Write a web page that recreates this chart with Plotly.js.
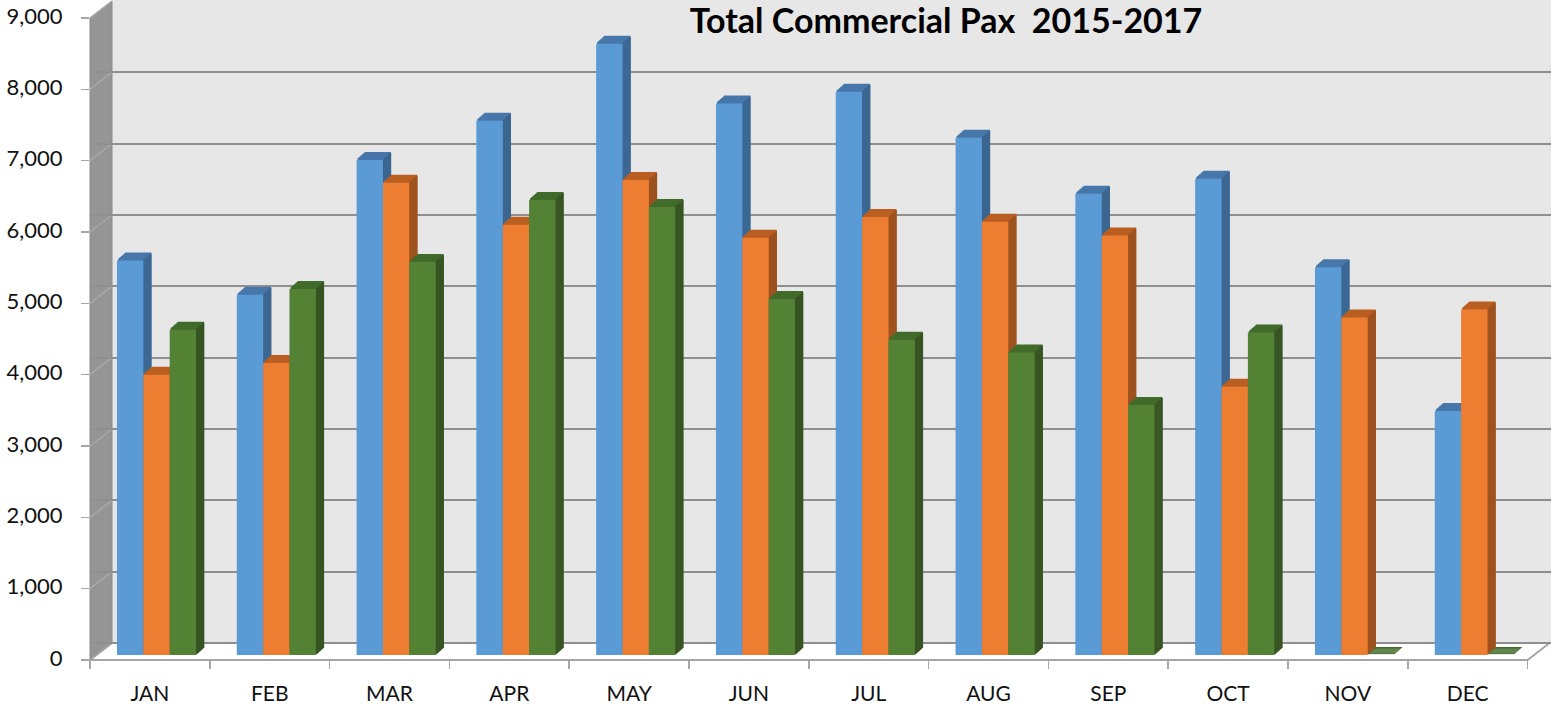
<!DOCTYPE html>
<html>
<head>
<meta charset="utf-8">
<script src="https://cdn.plot.ly/plotly-3.0.1.min.js"></script>
<style>
  html, body { margin: 0; padding: 0; background: #ffffff; }
  #chart { width: 1551px; height: 709px; }
</style>
</head>
<body>
<div id="chart"></div>
<script>
// ---------------- data ----------------
const months   = ['JAN','FEB','MAR','APR','MAY','JUN','JUL','AUG','SEP','OCT','NOV','DEC'];
const pax2015  = [5530, 5050, 6940, 7490, 8570, 7730, 7895, 7250, 6465, 6675, 5435, 3420];
const pax2016  = [3930, 4095, 6620, 6030, 6660, 5850, 6140, 6075, 5880, 3760, 4730, 4845];
const pax2017  = [4560, 5130, 5510, 6380, 6280, 4990, 4420, 4240, 3505, 4520, 0, 0];
const yTicks   = [0, 1000, 2000, 3000, 4000, 5000, 6000, 7000, 8000, 9000];
const titleText = 'Total Commercial Pax\u00a0 2015-2017';

// ---------------- geometry / style ----------------
const W_PX = 1551, H_PX = 709;
const px = x => x / W_PX;            // pixel -> paper x
const py = y => 1 - y / H_PX;        // pixel -> paper y
const AX_L = 90, AX_B = 660, AX_T = 18;      // front axis
const WALL_DX = 22, WALL_DY = 17;            // back-wall depth
const U_PER_PX = 9000 / (AX_B - AX_T);       // value units per pixel
const CAT_PX = 119.8;                        // pixels per category
const xRangeMax = -0.5 + (W_PX - AX_L) / CAT_PX;

const BAR_W = 0.22;
const DEPTH = 8;                 // extrusion layers (px)
const DX = 1 / CAT_PX;           // 1 px in category units
const DY = 0.875 * U_PER_PX;     // vertical rise per layer
const BASE0 = 5 * U_PER_PX;      // front face sits 5px behind front edge

const series = [
  {name: '2015', vals: pax2015, off: -0.275, front: '#5B9BD5', top: '#4777AA', side: '#3B6690'},
  {name: '2016', vals: pax2016, off: -0.055, front: '#ED7D31', top: '#BA5E22', side: '#9C521F'},
  {name: '2017', vals: pax2017, off:  0.165, front: '#548235', top: '#416B2A', side: '#375423'}
];

const traces = [];
series.forEach(s => {
  for (let k = DEPTH; k >= 1; k--) {
    traces.push({
      type: 'bar', x: months, y: s.vals.map(v => v + U_PER_PX),
      base: BASE0 + k * DY, offset: s.off + k * DX, width: BAR_W,
      marker: {color: s.top, line: {width: 0}},
      hoverinfo: 'skip', showlegend: false
    });
  }
  for (let k = 1; k <= DEPTH; k++) {
    traces.push({
      type: 'bar', x: months, y: s.vals,
      base: BASE0 + k * DY, offset: s.off + BAR_W + (k - 1) * DX, width: DX * 1.3,
      marker: {color: s.side, line: {width: 0}},
      hoverinfo: 'skip', showlegend: false
    });
  }
  traces.push({
    type: 'bar', name: s.name, x: months, y: s.vals,
    base: BASE0, offset: s.off, width: BAR_W,
    marker: {color: s.front, line: {width: 0}},
    showlegend: false
  });
});
// anchor trace for back-wall grid axis
traces.push({type: 'scatter', x: [], y: [], yaxis: 'y2', showlegend: false, hoverinfo: 'skip'});

// ---------------- decoration shapes ----------------
const shapes = [];
// back wall
shapes.push({type: 'rect', xref: 'paper', yref: 'paper', layer: 'below',
  x0: px(AX_L + WALL_DX), x1: px(W_PX), y0: py(AX_B - WALL_DY), y1: py(0),
  fillcolor: '#E7E7E7', line: {width: 0}});
// floor
shapes.push({type: 'path', xref: 'paper', yref: 'paper', layer: 'below',
  path: `M ${px(AX_L)} ${py(AX_B)} L ${px(AX_L + WALL_DX)} ${py(AX_B - WALL_DY)} L ${px(W_PX)} ${py(AX_B - WALL_DY)} L ${px(AX_L + 12 * CAT_PX + WALL_DX)} ${py(AX_B - WALL_DY)} L ${px(AX_L + 12 * CAT_PX)} ${py(AX_B)} Z`,
  fillcolor: '#FFFFFF', line: {color: '#A6A6A6', width: 2}});
// side wall
shapes.push({type: 'path', xref: 'paper', yref: 'paper', layer: 'between',
  path: `M ${px(AX_L)} ${py(AX_T)} L ${px(AX_L + WALL_DX)} ${py(AX_T - WALL_DY)} L ${px(AX_L + WALL_DX)} ${py(AX_B - WALL_DY)} L ${px(AX_L)} ${py(AX_B)} Z`,
  fillcolor: '#959595', line: {color: '#8A8A8A', width: 1}});
// side-wall grid segments
yTicks.forEach(t => {
  shapes.push({type: 'line', xref: 'paper', yref: 'y', layer: 'between',
    x0: px(AX_L), x1: px(AX_L + WALL_DX), y0: t, y1: t + WALL_DY * U_PER_PX,
    line: {color: '#A8A8A8', width: 1.5}});
});

const layout = {
  width: W_PX, height: H_PX,
  margin: {l: 0, r: 0, t: 0, b: 0, pad: 0},
  paper_bgcolor: '#FFFFFF', plot_bgcolor: '#FFFFFF',
  barmode: 'overlay',
  showlegend: false,
  font: {family: 'Lato, "Open Sans", sans-serif', color: '#111111'},
  title: {
    text: titleText, x: px(946), xanchor: 'center', y: 1 - 21 / H_PX, yanchor: 'middle',
    xref: 'paper', yref: 'container',
    font: {family: 'Lato, sans-serif', size: 34, weight: 'bold', color: '#000000'}
  },
  xaxis: {
    type: 'category', domain: [px(AX_L), 1], range: [-0.5, xRangeMax],
    anchor: 'free', position: (H_PX - AX_B) / H_PX,
    showline: false, showgrid: false, zeroline: false,
    ticks: 'outside', tickson: 'boundaries', ticklen: 8, tickwidth: 1.5, tickcolor: '#A6A6A6',
    tickfont: {family: 'Lato, sans-serif', size: 21, color: '#111111'},
    ticklabelstandoff: 19,
    automargin: false, fixedrange: true
  },
  yaxis: {
    domain: [(H_PX - AX_B) / H_PX, 1], range: [0, AX_B * U_PER_PX],
    tickvals: yTicks, tickformat: ',d',
    showline: false, showgrid: false, zeroline: false,
    ticks: 'outside', ticklen: 8, tickwidth: 1.5, tickcolor: '#A6A6A6',
    tickfont: {family: 'Lato, sans-serif', size: 22, color: '#111111'},
    ticklabelstandoff: 14, ticklabelshift: -2,
    automargin: false, fixedrange: true
  },
  yaxis2: {
    overlaying: 'y', anchor: 'x', side: 'left',
    range: [-WALL_DY * U_PER_PX, (AX_B - WALL_DY) * U_PER_PX],
    tickvals: yTicks, showticklabels: false, ticks: '',
    showgrid: true, gridcolor: '#8F8F8F', gridwidth: 2,
    zeroline: false, showline: false,
    automargin: false, fixedrange: true
  },
  shapes: shapes
};

Plotly.newPlot('chart', traces, layout, {displayModeBar: false, staticPlot: true});
</script>
</body>
</html>
